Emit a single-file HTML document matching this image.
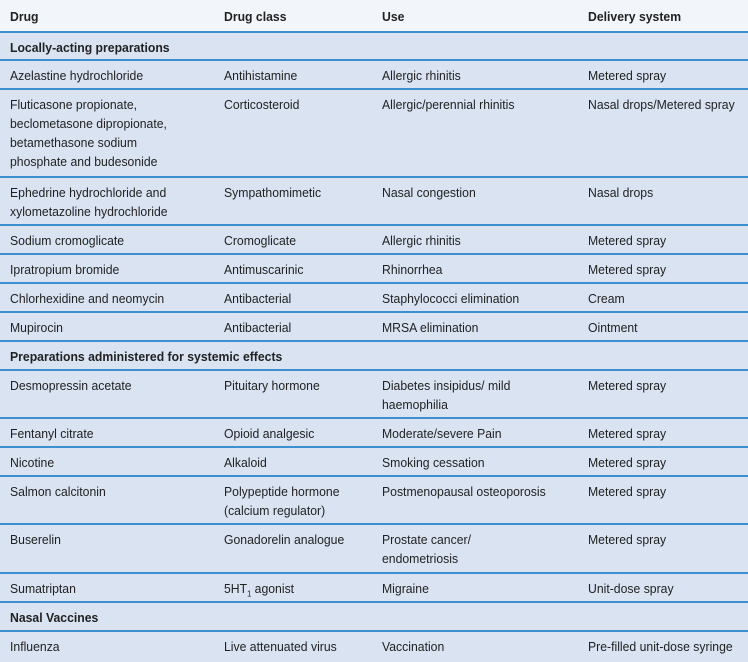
<!DOCTYPE html>
<html><head><meta charset="utf-8"><style>
body{margin:0;width:748px;height:662px;overflow:hidden;background:#d9e3f2;font-family:"Liberation Sans Narrow","Liberation Sans",sans-serif;font-size:13px;color:#222;}
.r{position:absolute;left:0;width:748px;border-bottom:2px solid #3d8fcf;box-sizing:border-box;}
.c{position:absolute;top:5px;line-height:19px;white-space:nowrap;transform:scaleX(0.94);transform-origin:0 0;}
.a{left:10px}.b{left:224px}.d{left:382px}.e{left:588px}
.h{background:#f2f5fa;font-weight:bold}
.s{font-weight:bold}
</style></head><body>
<div class="r h" style="top:0;height:33px"><div class="c a" style="top:7px">Drug</div><div class="c b" style="top:7px">Drug class</div><div class="c d" style="top:7px">Use</div><div class="c e" style="top:7px">Delivery system</div></div>
<div class="r s" style="top:33px;height:28px"><div class="c a">Locally-acting preparations</div></div>
<div class="r" style="top:61px;height:29px"><div class="c a">Azelastine hydrochloride</div><div class="c b">Antihistamine</div><div class="c d">Allergic rhinitis</div><div class="c e">Metered spray</div></div>
<div class="r" style="top:90px;height:88px"><div class="c a">Fluticasone propionate,<br>beclometasone dipropionate,<br>betamethasone sodium<br>phosphate and budesonide</div><div class="c b">Corticosteroid</div><div class="c d">Allergic/perennial rhinitis</div><div class="c e">Nasal drops/Metered spray</div></div>
<div class="r" style="top:178px;height:48px"><div class="c a">Ephedrine hydrochloride and<br>xylometazoline hydrochloride</div><div class="c b">Sympathomimetic</div><div class="c d">Nasal congestion</div><div class="c e">Nasal drops</div></div>
<div class="r" style="top:226px;height:29px"><div class="c a">Sodium cromoglicate</div><div class="c b">Cromoglicate</div><div class="c d">Allergic rhinitis</div><div class="c e">Metered spray</div></div>
<div class="r" style="top:255px;height:29px"><div class="c a">Ipratropium bromide</div><div class="c b">Antimuscarinic</div><div class="c d">Rhinorrhea</div><div class="c e">Metered spray</div></div>
<div class="r" style="top:284px;height:29px"><div class="c a">Chlorhexidine and neomycin</div><div class="c b">Antibacterial</div><div class="c d">Staphylococci elimination</div><div class="c e">Cream</div></div>
<div class="r" style="top:313px;height:29px"><div class="c a">Mupirocin</div><div class="c b">Antibacterial</div><div class="c d">MRSA elimination</div><div class="c e">Ointment</div></div>
<div class="r s" style="top:342px;height:29px"><div class="c a">Preparations administered for systemic effects</div></div>
<div class="r" style="top:371px;height:48px"><div class="c a">Desmopressin acetate</div><div class="c b">Pituitary hormone</div><div class="c d">Diabetes insipidus/ mild<br>haemophilia</div><div class="c e">Metered spray</div></div>
<div class="r" style="top:419px;height:29px"><div class="c a">Fentanyl citrate</div><div class="c b">Opioid analgesic</div><div class="c d">Moderate/severe Pain</div><div class="c e">Metered spray</div></div>
<div class="r" style="top:448px;height:29px"><div class="c a">Nicotine</div><div class="c b">Alkaloid</div><div class="c d">Smoking cessation</div><div class="c e">Metered spray</div></div>
<div class="r" style="top:477px;height:48px"><div class="c a">Salmon calcitonin</div><div class="c b">Polypeptide hormone<br>(calcium regulator)</div><div class="c d">Postmenopausal osteoporosis</div><div class="c e">Metered spray</div></div>
<div class="r" style="top:525px;height:49px"><div class="c a">Buserelin</div><div class="c b">Gonadorelin analogue</div><div class="c d">Prostate cancer/<br>endometriosis</div><div class="c e">Metered spray</div></div>
<div class="r" style="top:574px;height:29px"><div class="c a">Sumatriptan</div><div class="c b">5HT<sub style="font-size:8px;line-height:0">1</sub> agonist</div><div class="c d">Migraine</div><div class="c e">Unit-dose spray</div></div>
<div class="r s" style="top:603px;height:29px"><div class="c a">Nasal Vaccines</div></div>
<div class="r" style="top:632px;height:30px;border:none"><div class="c a">Influenza</div><div class="c b">Live attenuated virus</div><div class="c d">Vaccination</div><div class="c e">Pre-filled unit-dose syringe</div></div>
</body></html>
